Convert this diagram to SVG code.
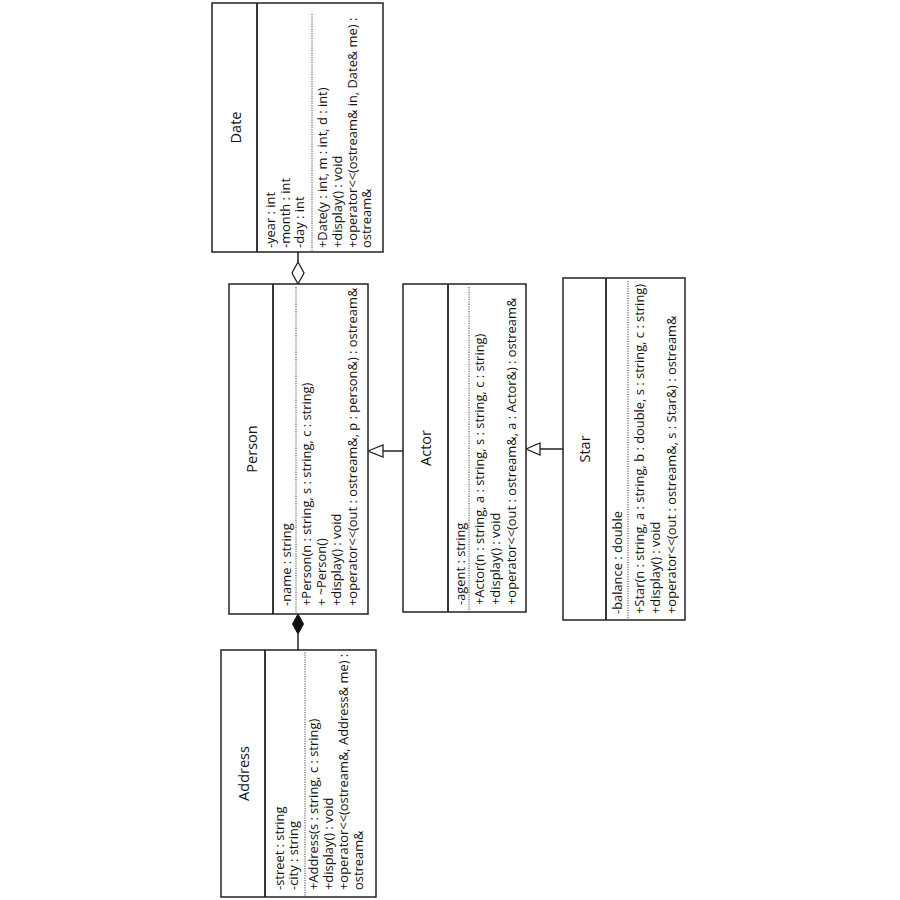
<svg xmlns="http://www.w3.org/2000/svg" width="900" height="900" viewBox="0 0 900 900">
<defs>
<style>
.box{fill:#fff;stroke:#222;stroke-width:1.5}
.div{stroke:#222;stroke-width:1.8}
.dot{stroke:#444;stroke-width:1;stroke-dasharray:1.2,1.2}
.title{font-family:"Open Sans","Liberation Sans",sans-serif;font-size:14.5px;fill:#111;text-anchor:middle;dominant-baseline:central}
.m{font-family:"Open Sans","Liberation Sans",sans-serif;font-size:12.9px;fill:#111}
.con{stroke:#222;stroke-width:1.5;fill:none}
.hollow{fill:#fff;stroke:#222;stroke-width:1.3}
.solid{fill:#111;stroke:#111;stroke-width:1}
</style>
</defs>
<rect width="900" height="900" fill="#fff"/>

<g id="connectors">
<line class="con" x1="298" y1="252" x2="298" y2="262"/>
<polygon class="hollow" points="298,262 304,273 298,284 292,273"/>
<line class="con" x1="298" y1="634" x2="298" y2="650"/>
<polygon class="solid" points="298,614 303.5,624 298,634 292.5,624"/>
<line class="con" x1="403" y1="451" x2="383" y2="451"/>
<polygon class="hollow" points="368,451 383,445 383,457"/>
<line class="con" x1="563" y1="449" x2="540" y2="449"/>
<polygon class="hollow" points="526,449 540,443 540,455"/>
</g>

<g id="date">
<rect class="box" x="212" y="3" width="171" height="249"/>
<line class="div" x1="257" y1="3" x2="257" y2="252"/>
<line class="dot" x1="312" y1="14" x2="312" y2="252"/>
<text class="title" transform="translate(235,127.5) rotate(-90)">Date</text>
<text class="m" transform="translate(275,248) rotate(-90)">-year : int</text>
<text class="m" transform="translate(290,248) rotate(-90)">-month : int</text>
<text class="m" transform="translate(304,248) rotate(-90)">-day : int</text>
<text class="m" transform="translate(327,248) rotate(-90)">+Date(y : int, m : int, d : int)</text>
<text class="m" transform="translate(342,248) rotate(-90)">+display() : void</text>
<text class="m" transform="translate(357,248) rotate(-90)">+operator&lt;&lt;(ostream&amp; in, Date&amp; me) :</text>
<text class="m" transform="translate(371,248) rotate(-90)">ostream&amp;</text>
</g>

<g id="person">
<rect class="box" x="229" y="284" width="139" height="330"/>
<line class="div" x1="273" y1="284" x2="273" y2="614"/>
<line class="dot" x1="296" y1="287" x2="296" y2="614"/>
<text class="title" transform="translate(251,449) rotate(-90)">Person</text>
<text class="m" transform="translate(291,606) rotate(-90)">-name : string</text>
<text class="m" transform="translate(311,606) rotate(-90)">+Person(n : string, s : string, c : string)</text>
<text class="m" transform="translate(326,606) rotate(-90)">+ ~Person()</text>
<text class="m" transform="translate(341,606) rotate(-90)">+display() : void</text>
<text class="m" transform="translate(357,606) rotate(-90)">+operator&lt;&lt;(out : ostream&amp;, p : person&amp;) : ostream&amp;</text>
</g>

<g id="actor">
<rect class="box" x="403" y="284" width="123" height="328"/>
<line class="div" x1="448" y1="284" x2="448" y2="612"/>
<line class="dot" x1="469" y1="287" x2="469" y2="612"/>
<text class="title" transform="translate(425.5,448) rotate(-90)">Actor</text>
<text class="m" transform="translate(465,605) rotate(-90)">-agent : string</text>
<text class="m" transform="translate(484,605) rotate(-90)">+Actor(n : string, a : string, s : string, c : string)</text>
<text class="m" transform="translate(500,605) rotate(-90)">+display() : void</text>
<text class="m" transform="translate(516,605) rotate(-90)">+operator&lt;&lt;(out : ostream&amp;, a : Actor&amp;) : ostream&amp;</text>
</g>

<g id="star">
<rect class="box" x="563" y="278" width="122" height="342"/>
<line class="div" x1="606" y1="278" x2="606" y2="620"/>
<line class="dot" x1="628" y1="281" x2="628" y2="620"/>
<text class="title" transform="translate(584.5,449) rotate(-90)">Star</text>
<text class="m" transform="translate(622,614) rotate(-90)">-balance : double</text>
<text class="m" transform="translate(644,614) rotate(-90)">+Star(n : string, a : string, b : double, s : string, c : string)</text>
<text class="m" transform="translate(660,614) rotate(-90)">+display() : void</text>
<text class="m" transform="translate(676,614) rotate(-90)">+operator&lt;&lt;(out : ostream&amp;, s : Star&amp;) : ostream&amp;</text>
</g>

<g id="address">
<rect class="box" x="221" y="650" width="155" height="247"/>
<line class="div" x1="265" y1="650" x2="265" y2="897"/>
<line class="dot" x1="305" y1="652" x2="305" y2="897"/>
<text class="title" transform="translate(243,773.5) rotate(-90)">Address</text>
<text class="m" transform="translate(284,890) rotate(-90)">-street : string</text>
<text class="m" transform="translate(298,890) rotate(-90)">-city : string</text>
<text class="m" transform="translate(318,890) rotate(-90)">+Address(s : string, c : string)</text>
<text class="m" transform="translate(333,890) rotate(-90)">+display() : void</text>
<text class="m" transform="translate(348,890) rotate(-90)">+operator&lt;&lt;(ostream&amp;, Address&amp; me) :</text>
<text class="m" transform="translate(363,890) rotate(-90)">ostream&amp;</text>
</g>
</svg>
